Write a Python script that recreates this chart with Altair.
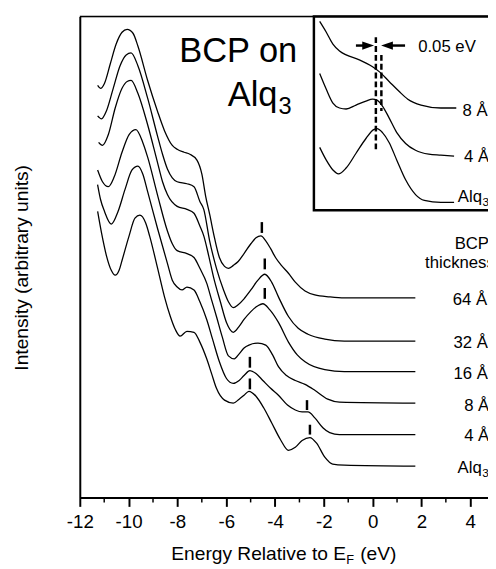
import altair as alt
import pandas as pd

FONT = "Liberation Sans"

# ---------------- main spectra (energy in eV, intensity in arbitrary units) ----------------
curve_names = ["64 Å", "32 Å", "16 Å", "8 Å", "4 Å", "Alq3"]

e_64 = [-11.27, -11.15, -10.99, -10.75, -10.51, -10.27, -10.06, -9.82, -9.62, -9.22, -8.82, -8.53,
        -8.21, -8.01, -7.73, -7.49, -7.20, -7.00, -6.84, -6.68, -6.48, -6.28, -6.07, -5.91, -5.71,
        -5.51, -5.27, -4.99, -4.78, -4.58, -4.38, -4.18, -3.98, -3.74, -3.45, -3.17, -2.77, -2.37,
        -1.76, -1.16, 0.05, 1.75]
i_64 = [419, 416, 421, 441, 461, 473, 476, 472, 459, 424, 393, 373, 358, 354, 351, 349, 343, 329,
        306, 288, 264, 244, 235, 233, 236, 240, 248, 258, 264, 266, 261, 253, 244, 236, 228, 219,
        210, 206, 204, 203, 203, 203]

e_32 = [-11.27, -11.11, -10.91, -10.63, -10.35, -10.10, -9.90, -9.62, -9.22, -8.82, -8.61, -8.41,
        -8.21, -8.01, -7.61, -7.32, -7.08, -6.92, -6.68, -6.40, -6.11, -5.91, -5.71, -5.51, -5.27,
        -4.99, -4.70, -4.42, -4.14, -3.86, -3.45, -3.05, -2.65, -1.96, -1.16, 1.75]
i_32 = [388, 385, 393, 416, 439, 450, 452, 439, 406, 368, 349, 334, 325, 321, 319, 316, 301, 293,
        261, 233, 211, 199, 193, 196, 202, 211, 221, 227, 219, 204, 184, 172, 166, 161, 159, 159]

e_16 = [-11.23, -11.07, -10.83, -10.55, -10.27, -10.06, -9.90, -9.62, -9.22, -8.82, -8.61, -8.41,
        -8.01, -7.61, -7.32, -7.08, -6.92, -6.72, -6.52, -6.24, -5.99, -5.71, -5.47, -5.27, -4.99,
        -4.70, -4.50, -4.22, -3.86, -3.45, -3.09, -2.77, -1.96, -1.16, 1.75]
i_16 = [361, 358, 369, 396, 416, 423, 424, 411, 379, 341, 321, 308, 296, 293, 289, 276, 266, 246,
        224, 199, 178, 168, 174, 181, 189, 195, 197, 191, 178, 158, 145, 138, 130, 128, 128]

e_8 = [-11.27, -11.07, -10.83, -10.59, -10.27, -9.98, -9.70, -9.42, -9.22, -8.82, -8.41, -8.21,
       -8.01, -7.61, -7.32, -7.08, -6.80, -6.60, -6.40, -6.16, -5.91, -5.67, -5.47, -5.27, -5.07,
       -4.70, -4.38, -4.10, -3.86, -3.53, -3.17, -2.77, -2.37, -1.84, -1.36, 1.75]
i_8 = [333, 321, 316, 326, 351, 369, 374, 361, 346, 308, 271, 258, 251, 248, 244, 233, 218, 201,
       184, 163, 144, 141, 146, 152, 155, 157, 155, 145, 133, 124, 119, 115, 109, 100, 97, 96]

e_4 = [-11.27, -11.15, -10.99, -10.71, -10.43, -10.15, -9.86, -9.62, -9.42, -9.22, -8.82, -8.41,
       -8.21, -8.01, -7.81, -7.61, -7.32, -7.08, -6.80, -6.56, -6.28, -5.99, -5.71, -5.47, -5.27,
       -5.03, -4.78, -4.50, -4.18, -3.86, -3.49, -3.17, -2.89, -2.65, -2.37, -2.04, -1.76, -1.36,
       1.75]
i_4 = [318, 303, 291, 278, 291, 313, 333, 337, 329, 311, 274, 238, 221, 214, 211, 214, 211, 199,
       181, 161, 138, 121, 116, 119, 124, 129, 126, 119, 111, 104, 94, 89, 87, 87, 81, 71, 66, 64,
       64]

e_alq = [-11.27, -11.11, -10.91, -10.71, -10.55, -10.39, -10.27, -9.98, -9.74, -9.54, -9.30, -9.14,
         -8.82, -8.53, -8.29, -8.09, -7.89, -7.61, -7.32, -7.08, -6.80, -6.60, -6.40, -6.07, -5.71,
         -5.47, -5.27, -5.07, -4.78, -4.46, -4.14, -3.78, -3.45, -3.17, -2.89, -2.57, -2.29, -1.96,
         -1.64, -1.16, 1.75]
i_alq = [291, 269, 246, 231, 226, 231, 241, 266, 284, 287, 279, 266, 234, 204, 184, 171, 164, 169,
         168, 158, 141, 126, 111, 99, 96, 100, 104, 108, 103, 91, 76, 59, 48, 51, 58, 61, 55, 41,
         34, 33, 32]

# peak markers (energy, bottom, top)
mark_e = [-4.54, -4.42, -4.42, -5.03, -5.03, -2.69, -2.57]
mark_lo = [269, 232, 202, 132, 110, 89, 64]
mark_hi = [280, 243, 213, 143, 121, 99, 74]

minor_ticks = [-11, -9, -7, -5, -3, -1, 1, 3]
major_ticks = [-12, -10, -8, -6, -4, -2, 0, 2, 4]

# right-hand labels
lab_text = ["64 Å", "32 Å", "16 Å", "8 Å", "4 Å", "Alq", "BCP", "thickness"]
lab_e = [3.28, 3.31, 3.31, 3.75, 3.75, 3.48, 3.36, 2.15]
lab_i = [196, 152, 121, 88, 57, 25, 253, 233]

# ---------------- inset (energy in eV, intensity in arbitrary units) ----------------
ins_e_8 = [-3.11, -3.05, -2.99, -2.93, -2.87, -2.75, -2.63, -2.57, -2.48, -2.39, -2.31, -2.19, -2.01, -1.87]
ins_i_8 = [193, 182, 170, 163, 159, 154, 147, 142, 132, 122, 114, 108, 105, 105]
ins_e_4 = [-3.11, -3.05, -2.99, -2.93, -2.87, -2.78, -2.69, -2.63, -2.59, -2.54, -2.48, -2.41, -2.33,
           -2.24, -2.12, -2.01, -1.89]
ins_i_4 = [140, 124, 110, 105, 104, 108, 112, 114, 113, 107, 95, 80, 69, 62, 58, 57, 56]
ins_e_alq = [-3.11, -3.05, -2.99, -2.94, -2.87, -2.78, -2.69, -2.62, -2.59, -2.54, -2.48, -2.41, -2.33,
             -2.24, -2.16, -2.01, -1.89]
ins_i_alq = [65, 52, 42, 38, 44, 59, 74, 83, 84, 80, 70, 52, 32, 17, 11, 9, 9]

dash_e = [-2.60, -2.55]
dash_top = [177, 159]
dash_bot = [62, 102]

ins_lab_text = ["8 Å", "4 Å", "Alq", "0.05 eV"]
ins_lab_e = [-1.814, -1.80, -1.856, -2.216]
ins_lab_i = [97, 50, 9, 162]

# ---------------- data frames ----------------
rows = []
for name, es, ys in zip(curve_names, [e_64, e_32, e_16, e_8, e_4, e_alq],
                        [i_64, i_32, i_16, i_8, i_4, i_alq]):
    for k, (e, y) in enumerate(zip(es, ys)):
        rows.append({"curve": name, "E": e, "I": y, "k": k})
spec_df = pd.DataFrame(rows)

rows = []
for name, es, ys in zip(["8 Å", "4 Å", "Alq3"], [ins_e_8, ins_e_4, ins_e_alq],
                        [ins_i_8, ins_i_4, ins_i_alq]):
    for k, (e, y) in enumerate(zip(es, ys)):
        rows.append({"curve": name, "E": e, "I": y, "k": k})
inset_df = pd.DataFrame(rows)

marks_df = pd.DataFrame({"E": mark_e, "I": mark_lo, "I2": mark_hi})
minor_df = pd.DataFrame({"E": minor_ticks})
lab_df = pd.DataFrame({"label": lab_text, "E": lab_e, "I": lab_i})
dash_df = pd.DataFrame({"E": dash_e, "I": dash_top, "I2": dash_bot})
ins_lab_df = pd.DataFrame({"label": ins_lab_text, "E": ins_lab_e, "I": ins_lab_i})
one = pd.DataFrame({"a": [0]})

# ---------------- scales / axes ----------------
xs = alt.Scale(domain=[-12, 4.727], nice=False, zero=False)
ys = alt.Scale(domain=[0, 489], nice=False, zero=False)
xaxis = alt.Axis(values=major_ticks, title=None, grid=False, domainWidth=2, domainColor="black",
                 tickSize=9, tickWidth=2, tickColor="black", labelFontSize=19, labelFont=FONT,
                 labelColor="black", labelPadding=21, labelBaseline="alphabetic",
                 labelExpr="'' + datum.value", labelFlush=False, labelOverlap=False)
yaxis = alt.Axis(title="Intensity (arbitrary units)", labels=False, ticks=False, grid=False,
                 domain=True, domainWidth=2, domainColor="black", titleFontSize=19.5,
                 titleFont=FONT, titleFontWeight="normal", titleColor="black", titleX=-53,
                 titleY=255, titleAngle=270, titleAlign="center", titleBaseline="alphabetic")
X = alt.X("E:Q", scale=xs, axis=xaxis)
Y = alt.Y("I:Q", scale=ys, axis=yaxis)

xi = alt.Scale(domain=[-3.3, -1.5], range=[222.6, 424.2], nice=False, zero=False)
yi = alt.Scale(domain=[0, 198], range=[198, 0], nice=False, zero=False)
XI = alt.X("E:Q", scale=xi, axis=None)
YI = alt.Y("I:Q", scale=yi, axis=None)

# ---------------- main layers ----------------
curves = alt.Chart(spec_df).mark_line(color="black", strokeWidth=1.3, interpolate="monotone").encode(
    x=X, y=Y, detail="curve:N", order="k:Q")
peak_marks = alt.Chart(marks_df).mark_rule(color="black", strokeWidth=2.5).encode(x=X, y=Y, y2="I2:Q")
minor = alt.Chart(minor_df).mark_rule(color="black", strokeWidth=1.5).encode(
    x=X, y=alt.value(489), y2=alt.value(494))
top_border = alt.Chart(one).mark_rule(color="black", strokeWidth=1.5).encode(
    x=alt.value(0), x2=alt.value(415), y=alt.value(0))
labels = alt.Chart(lab_df).mark_text(align="left", baseline="alphabetic", fontSize=17,
                                     font=FONT, color="black").encode(x=X, y=Y, text="label:N")
alq_sub = alt.Chart(pd.DataFrame({"E": [3.48], "I": [21], "t": ["3"]})).mark_text(
    align="left", baseline="alphabetic", fontSize=12, font=FONT, color="black", dx=25).encode(
    x=X, y=Y, text="t:N")

title1 = alt.Chart(pd.DataFrame({"E": [-3.09], "I": [443], "t": ["BCP on"]})).mark_text(
    align="right", baseline="alphabetic", fontSize=35, font=FONT, color="black").encode(
    x=X, y=Y, text="t:N")
title2 = alt.Chart(pd.DataFrame({"E": [-3.90], "I": [398], "t": ["Alq"]})).mark_text(
    align="right", baseline="alphabetic", fontSize=35, font=FONT, color="black").encode(
    x=X, y=Y, text="t:N")
title3 = alt.Chart(pd.DataFrame({"E": [-3.90], "I": [389.5], "t": ["3"]})).mark_text(
    align="left", baseline="alphabetic", fontSize=24, font=FONT, color="black", dx=1).encode(
    x=X, y=Y, text="t:N")

xt1 = alt.Chart(one).mark_text(align="left", baseline="alphabetic", fontSize=19.5, font=FONT,
                               color="black").encode(
    x=alt.value(93), y=alt.value(553), text=alt.value("Energy Relative to E"))
xt2 = alt.Chart(one).mark_text(align="left", baseline="alphabetic", fontSize=13, font=FONT,
                               color="black").encode(
    x=alt.value(271), y=alt.value(557), text=alt.value("F"))
xt3 = alt.Chart(one).mark_text(align="left", baseline="alphabetic", fontSize=19.5, font=FONT,
                               color="black").encode(
    x=alt.value(285), y=alt.value(553), text=alt.value("(eV)"))

main = alt.layer(curves, peak_marks, minor, top_border, labels, alq_sub,
                 title1, title2, title3, xt1, xt2, xt3)

# ---------------- inset layers ----------------
box = alt.Chart(one).mark_rect(fill="white", stroke="black", strokeWidth=2.5).encode(
    x=alt.value(238), x2=alt.value(440), y=alt.value(0), y2=alt.value(197))
ins_curves = alt.Chart(inset_df).mark_line(color="black", strokeWidth=1.3,
                                           interpolate="monotone").encode(
    x=XI, y=YI, detail="curve:N", order="k:Q")
dashes = alt.Chart(dash_df).mark_rule(color="black", strokeWidth=2.5, strokeDash=[6, 3]).encode(
    x=XI, y=YI, y2="I2:Q")
shafts = alt.Chart(pd.DataFrame({"E": [-2.781, -2.466], "E2": [-2.716, -2.335],
                                 "I": [168.5, 168.5]})).mark_rule(
    color="black", strokeWidth=2.5).encode(x=XI, x2="E2:Q", y=YI)
head_r = alt.Chart(pd.DataFrame({"E": [-2.670], "I": [168.5]})).mark_point(
    shape="M-1,-0.7L1,0L-1,0.7Z", size=144, filled=True, color="black", opacity=1).encode(x=XI, y=YI)
head_l = alt.Chart(pd.DataFrame({"E": [-2.499], "I": [168.5]})).mark_point(
    shape="M1,-0.7L-1,0L1,0.7Z", size=144, filled=True, color="black", opacity=1).encode(x=XI, y=YI)
ins_labels = alt.Chart(ins_lab_df).mark_text(align="left", baseline="alphabetic", fontSize=17,
                                             font=FONT, color="black").encode(
    x=XI, y=YI, text="label:N")
ins_sub = alt.Chart(pd.DataFrame({"E": [-1.856], "I": [5], "t": ["3"]})).mark_text(
    align="left", baseline="alphabetic", fontSize=12, font=FONT, color="black", dx=25).encode(
    x=XI, y=YI, text="t:N")

inset = alt.layer(box, ins_curves, dashes, shafts, head_r, head_l, ins_labels, ins_sub)

chart = alt.layer(main, inset).resolve_scale(x="independent", y="independent").properties(
    width=415, height=489,
    padding={"left": 73, "top": 4, "right": 0, "bottom": 68},
    autosize=alt.AutoSizeParams(type="none"),
    background="white",
).configure_view(stroke=None).configure(font=FONT)

chart.save("out.html", embed_options={"renderer": "svg", "actions": False})
